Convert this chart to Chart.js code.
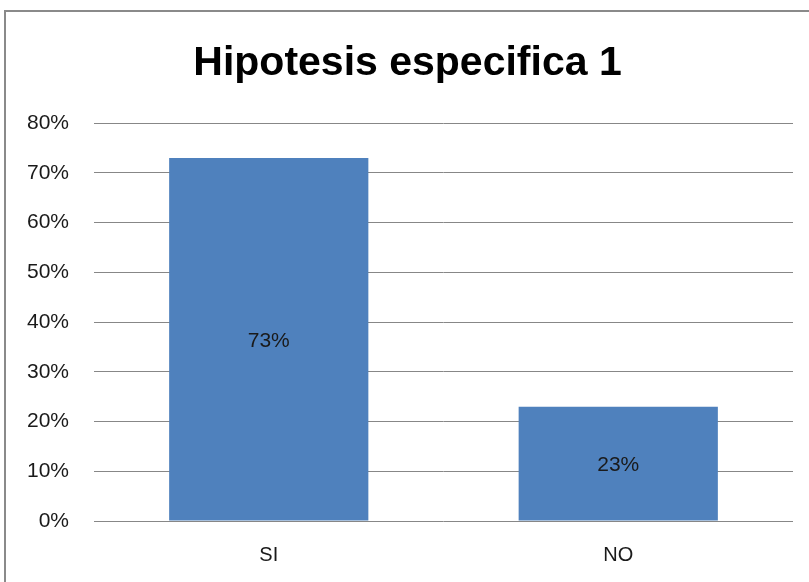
<!DOCTYPE html>
<html lang="es">
  <head>
    <meta charset="utf-8">
    <title>Hipotesis especifica 1</title>
    <script src="https://cdn.jsdelivr.net/npm/chart.js@4.4.0/dist/chart.umd.min.js"></script>
    <style>
      body { margin: 0; background: #fff; }
      #frame { position: absolute; left: 4px; top: 10px; width: 830px; height: 600px; border: 2px solid #8a8a8a; }
      #wrap { position: absolute; left: 0; top: 0; width: 809px; height: 582px; }
    </style>
  </head>
  <body>
    <div id="frame"></div>
    <div id="wrap"><canvas id="chart"></canvas></div>

    <script>
    const categories = ['SI', 'NO'];
    const values = [73, 23];
    const yTicks = [0, 10, 20, 30, 40, 50, 60, 70, 80];

    // draw the value in the middle of each bar
    const barLabels = {
      id: 'barLabels',
      afterDatasetsDraw(chart) {
        const ctx = chart.ctx;
        const meta = chart.getDatasetMeta(0);
        ctx.save();
        ctx.font = '21px "Liberation Sans", Arial, sans-serif';
        ctx.fillStyle = '#1a1a1a';
        ctx.textAlign = 'center';
        ctx.textBaseline = 'middle';
        meta.data.forEach((bar, i) => {
          const mid = (bar.y + bar.base) / 2;
          ctx.fillText(values[i] + '%', bar.x, mid + 2);
        });
        ctx.restore();
      }
    };

    const ctx = document.getElementById('chart').getContext('2d');
    const myChart = new Chart(ctx, {
      type: 'bar',
      data: {
        labels: categories,
        datasets: [{
          data: values,
          backgroundColor: '#4F81BD',
          borderWidth: 0,
          barPercentage: 0.57,
          categoryPercentage: 1
        }]
      },
      options: {
        responsive: true,
        maintainAspectRatio: false,
        animation: false,
        layout: { padding: { left: 22, right: 16, top: 0, bottom: 0 } },
        plugins: {
          legend: { display: false },
          tooltip: { enabled: false },
          title: {
            display: true,
            text: 'Hipotesis especifica 1',
            color: '#000',
            font: { family: '"Liberation Sans", Arial, sans-serif', size: 41, weight: 'bold', lineHeight: 1.2 },
            padding: { top: 39, bottom: 35 }
          }
        },
        scales: {
          x: {
            grid: { display: false, drawTicks: false },
            border: { display: false },
            ticks: {
              color: '#1a1a1a',
              padding: 22,
              font: { family: '"Liberation Sans", Arial, sans-serif', size: 20 }
            },
            afterFit(scale) { scale.height = 61; }
          },
          y: {
            min: 0,
            max: 80,
            afterBuildTicks(scale) { scale.ticks = yTicks.map(v => ({ value: v })); },
            grid: { color: '#878787', lineWidth: 1, drawTicks: false },
            border: { display: false },
            ticks: {
              color: '#1a1a1a',
              padding: 25,
              font: { family: '"Liberation Sans", Arial, sans-serif', size: 21 },
              callback: function(value) { return value + '%'; }
            },
            afterFit(scale) { scale.width = 72; }
          }
        }
      },
      plugins: [barLabels]
    });
    </script>
  </body>
</html>
